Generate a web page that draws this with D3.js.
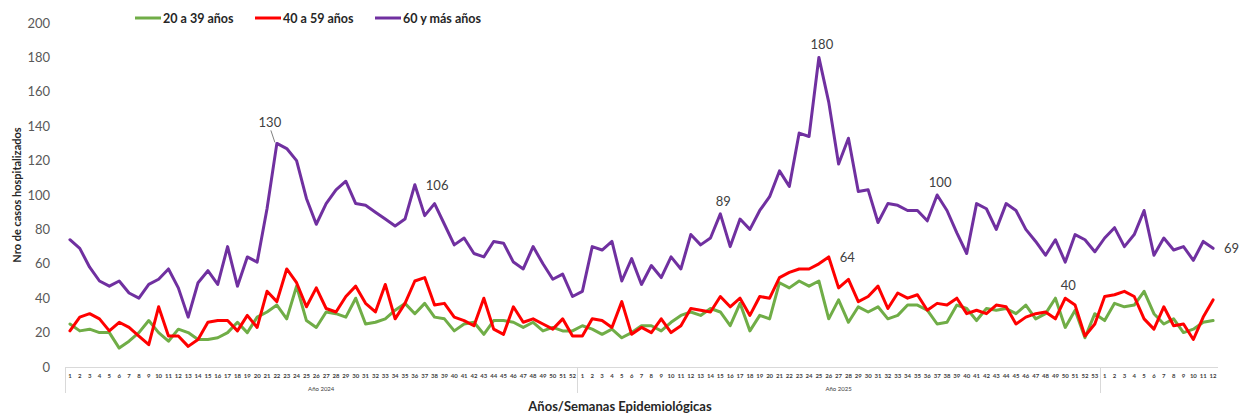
<!DOCTYPE html>
<html>
<head>
<meta charset="utf-8">
<script src="https://cdn.jsdelivr.net/npm/d3@7"></script>
<style>
  body { margin: 0; background: #fff; }
  svg { font-family: Lato, "Open Sans", sans-serif; }
</style>
</head>
<body>
<div class="grafico"></div>
<script>
// datos
const anios = ["Año 2024", "Año 2025", ""]
const semanasPorAnio = [52, 53, 12]

const series = ["20 a 39 años", "40 a 59 años", "60 y más años"]
const colores = ["#70AD47", "#FF0000", "#7030A0"]

const g20a39 = [
    25,21,22,20,20,11,15,20,27,20, 15,22,20,16,16,17,20,26,20,29,
    32,36,28,47,27,23,32,31,29,40, 25,26,28,33,37,31,37,29,28,21,
    25,26,19,27,27,26,23,26,21,23, 21,21,
    24,22,19,22,17,20,24,24,21,26, 30,32,30,34,32,24,37,21,30,28,
    49,46,50,47,50,28,39,26,35,32, 35,28,30,36,36,33,25,26,36,34,
    27,34,33,34,31,36,28,31,40,23, 33,17,31,
    27,37,35,36,44,31,25,28,20,22,26,27]

const g40a59 = [
    21,29,31,28,21,26,23,18,13,35, 18,18,12,16,26,27,27,21,30,23,
    44,38,57,49,35,46,34,32,41,47, 37,32,48,28,37,50,52,36,37,29,
    27,24,40,22,19,35,26,28,25,22, 28,18,
    18,28,27,23,38,19,23,20,28,20, 24,34,33,32,41,35,40,30,41,40,
    52,55,57,57,60,64,46,51,38,41, 47,34,43,40,42,33,37,36,40,31,
    33,31,36,35,25,29,31,32,28,40, 36,18,25,
    41,42,44,41,28,22,35,24,25,16,29,39]

const g60ymas = [
    74,69,58,50,47,50,43,40,48,51, 57,46,29,49,56,48,70,47,64,61,
    92,130,127,120,98,83,95,103,108,95, 94,90,86,82,86,106,88,95,83,71,
    75,66,64,73,72,61,57,70,60,51, 54,41,
    44,70,68,73,50,63,48,59,52,64, 57,77,71,75,89,70,86,80,91,99,
    114,105,136,134,180,154,118,133,102,103, 84,95,94,91,91,85,100,91,78,66,
    95,92,80,95,91,80,73,65,74,61, 77,74,67,
    75,81,70,77,91,65,75,68,70,62,73,69]

// etiquetas de datos: [serie, indice, posicion]
const etiquetas = [
    [2, 21, "leader"], [2, 35, "right"], [2, 66, "above"], [2, 76, "above"],
    [1, 77, "right"], [2, 88, "above"], [1, 101, "above"], [2, 116, "right"]
]

const yTicks = [0, 20, 40, 60, 80, 100, 120, 140, 160, 180, 200]

// armado de categorias
let categorias = []
anios.forEach((a, i) => {
    for (let s = 1; s <= semanasPorAnio[i]; s++) {
        categorias.push({ key: a + "-" + s, semana: s, anio: i })
    }
})

const W = 1245, H = 417
const margin = { left: 65, right: 27, top: 23, bottom: 50 }

const svg = d3.select(".grafico")
    .append("svg")
    .attr("width", W)
    .attr("height", H)

const x = d3.scaleBand()
    .domain(categorias.map(d => d.key))
    .range([margin.left, W - margin.right])

const y = d3.scaleLinear()
    .domain([0, 200])
    .range([H - margin.bottom, margin.top])

const y0 = y(0)

// eje y (solo etiquetas)
svg.append("g")
    .selectAll("text")
    .data(yTicks)
    .join("text")
    .attr("x", 50)
    .attr("y", d => y(d) + 4.5)
    .attr("text-anchor", "end")
    .attr("fill", "#595959")
    .style("font-size", "13px")
    .text(d => d)

// eje x
const ejeX = svg.append("g").attr("stroke", "#D9D9D9").attr("stroke-width", 1)
ejeX.append("line")
    .attr("x1", margin.left).attr("x2", W - margin.right)
    .attr("y1", y0 + 0.5).attr("y2", y0 + 0.5)

let inicio = 0
const separadores = [0]
semanasPorAnio.forEach(n => { inicio += n; separadores.push(inicio) })
separadores.slice(0, -1).forEach(idx => {
    const px = Math.round(x(categorias[idx].key)) + 0.5
    ejeX.append("line")
        .attr("x1", px).attr("x2", px)
        .attr("y1", y0).attr("y2", y0 + 26)
})

svg.append("g")
    .selectAll("text")
    .data(categorias)
    .join("text")
    .attr("x", d => x(d.key) + x.bandwidth() / 2)
    .attr("y", y0 + 11)
    .attr("text-anchor", "middle")
    .attr("fill", "#404040")
    .style("font-size", "6px")
    .style("font-weight", "bold")
    .text(d => d.semana)

anios.forEach((a, i) => {
    const a0 = x(categorias[separadores[i]].key)
    const a1 = x(categorias[separadores[i + 1] - 1].key) + x.bandwidth()
    svg.append("text")
        .attr("x", (a0 + a1) / 2)
        .attr("y", y0 + 24)
        .attr("text-anchor", "middle")
        .attr("fill", "#404040")
        .style("font-size", "6px")
        .text(a)
})

// titulos
svg.append("text")
    .attr("x", 620)
    .attr("y", 411)
    .attr("text-anchor", "middle")
    .attr("fill", "#262626")
    .style("font-size", "13px")
    .style("font-weight", "bold")
    .text("Años/Semanas Epidemiológicas")

svg.append("text")
    .attr("transform", `translate(21 ${(y(0) + y(200)) / 2}) rotate(-90)`)
    .attr("text-anchor", "middle")
    .attr("fill", "#262626")
    .style("font-size", "11px")
    .style("font-weight", "bold")
    .text("Nro de casos hospitalizados")

// lineas
const datos = [g20a39, g40a59, g60ymas]
const linea = d3.line()
    .x((d, i) => x(categorias[i].key) + x.bandwidth() / 2)
    .y(d => y(d))

svg.append("g")
    .selectAll("path")
    .data(datos)
    .join("path")
    .attr("d", d => linea(d))
    .attr("fill", "none")
    .attr("stroke", (_, i) => colores[i])
    .attr("stroke-width", 3)
    .attr("stroke-linejoin", "round")
    .attr("stroke-linecap", "round")

// etiquetas de datos
const capaEtiquetas = svg.append("g")
    .attr("fill", "#404040")
    .style("font-size", "13px")
etiquetas.forEach(([s, i, pos]) => {
    const v = datos[s][i]
    const px = x(categorias[i].key) + x.bandwidth() / 2
    const py = y(v)
    if (pos == "leader") {
        capaEtiquetas.append("line")
            .attr("x1", px - 2).attr("y1", py - 1)
            .attr("x2", px - 6).attr("y2", py - 13)
            .attr("stroke", "#808080")
            .attr("stroke-width", 1)
        capaEtiquetas.append("text")
            .attr("x", px - 7).attr("y", py - 16)
            .attr("text-anchor", "middle")
            .text(v)
    } else if (pos == "right") {
        capaEtiquetas.append("text")
            .attr("x", px + 11).attr("y", py + 5)
            .text(v)
    } else {
        capaEtiquetas.append("text")
            .attr("x", px + 3).attr("y", py - 8)
            .attr("text-anchor", "middle")
            .text(v)
    }
})

// leyenda
const leyenda = svg.append("g")
    .selectAll("g")
    .data(series)
    .join("g")
    .attr("transform", (_, i) => `translate(${135 + i * 120} 18)`)

leyenda.append("line")
    .attr("x1", 0).attr("x2", 26)
    .attr("stroke", (_, i) => colores[i])
    .attr("stroke-width", 3)

leyenda.append("text")
    .attr("x", 28)
    .attr("y", 4.5)
    .attr("fill", "#262626")
    .style("font-size", "12.5px")
    .style("font-weight", "bold")
    .text(d => d)
</script>
</body>
</html>
